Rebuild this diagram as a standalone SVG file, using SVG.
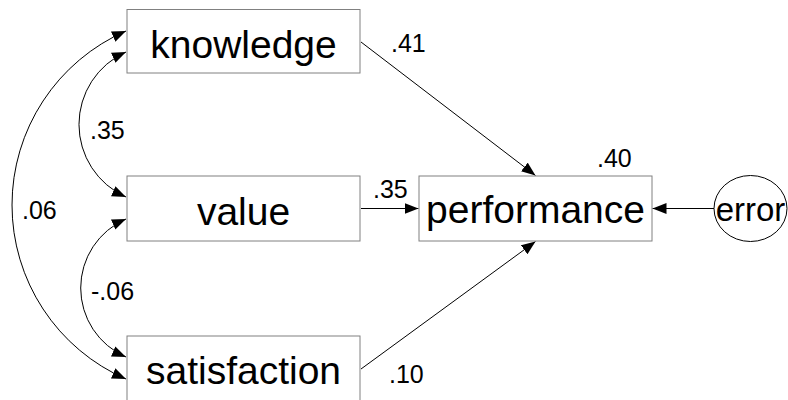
<svg xmlns="http://www.w3.org/2000/svg" width="788" height="400" viewBox="0 0 788 400">
<style>
.box{fill:#fff;stroke:#808080;stroke-width:1}
.lbl{font-family:"Liberation Sans",Arial,sans-serif;font-size:39px;fill:#000;text-anchor:middle}
.num{font-family:"Liberation Sans",Arial,sans-serif;font-size:25px;fill:#000}
.ln{fill:none;stroke:#000;stroke-width:1}
</style>
<defs>
<marker id="ah" markerUnits="userSpaceOnUse" markerWidth="15" markerHeight="12" refX="14" refY="5.5" orient="auto-start-reverse">
<path d="M0,0 L14,5.5 L0,11 z" fill="#000"/>
</marker>
</defs>
<rect x="0" y="0" width="788" height="400" fill="#fff"/>
<g id="connectors">
<path class="ln" d="M361,42 L535.5,175.5" marker-end="url(#ah)"/>
<path class="ln" d="M361,208.5 L418.5,208.5" marker-end="url(#ah)"/>
<path class="ln" d="M361,369 L535.5,241.5" marker-end="url(#ah)"/>
<path class="ln" d="M714,208.5 L652.5,208.5" marker-end="url(#ah)"/>
<path class="ln" d="M126,52 A79.4,79.4 0 0 0 126,197" marker-start="url(#ah)" marker-end="url(#ah)"/>
<path class="ln" d="M126,219 A75.2,75.2 0 0 0 126,357" marker-start="url(#ah)" marker-end="url(#ah)"/>
<path class="ln" d="M126,31 A189.8,189.8 0 0 0 126,379" marker-start="url(#ah)" marker-end="url(#ah)"/>
</g>
<g id="knowledge"><rect class="box" x="127" y="9.5" width="233" height="63.5"/><text class="lbl" x="243.5" y="58">knowledge</text></g>
<g id="value"><rect class="box" x="127" y="176" width="233" height="65"/><text class="lbl" x="243.5" y="225">value</text></g>
<g id="satisfaction"><rect class="box" x="127" y="336" width="233" height="70"/><text class="lbl" x="243.5" y="384">satisfaction</text></g>
<g id="performance"><rect class="box" x="419" y="176" width="233" height="65"/><text class="lbl" x="535.5" y="223">performance</text></g>
<g id="error"><ellipse cx="750.5" cy="208.5" rx="36.5" ry="33" fill="#fff" stroke="#000" stroke-width="1"/><text class="lbl" style="font-size:33px" x="750.5" y="221">error</text></g>
<g id="labels">
<text class="num" x="391" y="52">.41</text>
<text class="num" x="373" y="198">.35</text>
<text class="num" x="597" y="167">.40</text>
<text class="num" x="389" y="383">.10</text>
<text class="num" x="90" y="139">.35</text>
<text class="num" x="91" y="300">-.06</text>
<text class="num" x="22" y="219">.06</text>
</g>
</svg>
